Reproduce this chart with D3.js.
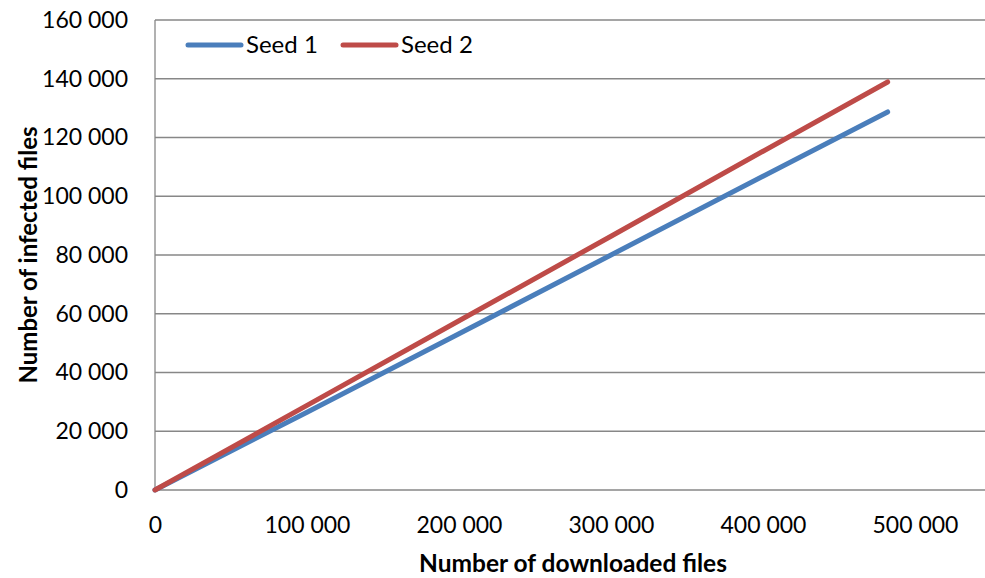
<!DOCTYPE html>
<html>
<head>
<meta charset="utf-8">
<script src="https://cdn.jsdelivr.net/npm/d3@7"></script>
<style>
  body { margin: 0; background: #fff; }
  svg { display: block; font-family: Lato, "Open Sans", sans-serif; }
</style>
</head>
<body>
<svg id="chart"></svg>
<script>
// Values
const downloaded = [0, 100000, 200000, 300000, 400000, 482000];
const seed1 = [0, 26500, 53200, 80000, 106800, 128700];
const seed2 = [0, 28800, 57600, 86400, 115300, 138900];
const seriesNames = ["Seed 1", "Seed 2"];
const xTicks = [0, 100000, 200000, 300000, 400000, 500000];
const yTicks = [0, 20000, 40000, 60000, 80000, 100000, 120000, 140000, 160000];

const width = 985;
const height = 578;
const marginTop = 20;
const marginLeft = 155;
const marginBottom = 88;
// the picture is cropped on the right: the axis runs on to 600 000 past the edge
const xRight = 1067;

const colors = ["#4a7ebb", "#be4b48"];

const x = d3.scaleLinear([0, 600000], [marginLeft, xRight]);
const y = d3.scaleLinear([0, 160000], [height - marginBottom, marginTop]);

const fmt = v => d3.format(",")(v).replace(/,/g, " ");

const svg = d3.select("#chart")
    .attr("width", width)
    .attr("height", height)
    .attr("viewBox", [0, 0, width, height]);

// horizontal grid lines
svg.append("g")
    .selectAll("line")
    .data(yTicks.slice(1))
    .join("line")
    .attr("x1", marginLeft)
    .attr("x2", xRight)
    .attr("y1", d => y(d))
    .attr("y2", d => y(d))
    .attr("stroke", "#878787")
    .attr("stroke-width", 1.3);

// y axis labels
svg.append("g")
    .attr("transform", `translate(${marginLeft},0)`)
    .call(d3.axisLeft(y).tickValues(yTicks).tickFormat(fmt).tickSize(0).tickPadding(27))
    .call(g => g.select(".domain").remove())
    .call(g => g.selectAll("text")
        .attr("font-family", "Lato, 'Open Sans', sans-serif")
        .attr("font-size", 23)
        .attr("fill", "#000"));

// x axis labels
svg.append("g")
    .attr("transform", `translate(0,${height - marginBottom})`)
    .call(d3.axisBottom(x).tickValues(xTicks).tickFormat(fmt).tickSize(0).tickPadding(27))
    .call(g => g.select(".domain").remove())
    .call(g => g.selectAll("text")
        .attr("font-family", "Lato, 'Open Sans', sans-serif")
        .attr("font-size", 23)
        .attr("fill", "#000"));

// axis lines
svg.append("line")
    .attr("x1", marginLeft).attr("x2", marginLeft)
    .attr("y1", y(160000)).attr("y2", y(0))
    .attr("stroke", "#878787")
    .attr("stroke-width", 1.3);
svg.append("line")
    .attr("x1", marginLeft).attr("x2", xRight)
    .attr("y1", y(0)).attr("y2", y(0))
    .attr("stroke", "#878787")
    .attr("stroke-width", 1.3);

// series lines
const line = d3.line()
    .x(d => x(d[0]))
    .y(d => y(d[1]));

[seed1, seed2].forEach((vals, i) => {
    svg.append("path")
        .datum(downloaded.map((v, j) => [v, vals[j]]))
        .attr("fill", "none")
        .attr("stroke", colors[i])
        .attr("stroke-width", 5)
        .attr("stroke-linecap", "round")
        .attr("stroke-linejoin", "round")
        .attr("d", line);
});

// legend
const legend = svg.append("g")
    .selectAll("g")
    .data(seriesNames)
    .join("g")
    .attr("transform", (d, i) => `translate(${188 + i * 155},45)`);

legend.append("line")
    .attr("x1", 0).attr("x2", 53)
    .attr("stroke", (d, i) => colors[i])
    .attr("stroke-width", 5)
    .attr("stroke-linecap", "round");

legend.append("text")
    .attr("x", 58)
    .attr("dy", "0.35em")
    .attr("font-size", 24)
    .attr("fill", "#000")
    .text(d => d);

// axis titles
svg.append("text")
    .attr("x", 573)
    .attr("y", 572)
    .attr("text-anchor", "middle")
    .attr("font-size", 24.5)
    .attr("font-weight", "bold")
    .text("Number of downloaded files");

svg.append("text")
    .attr("transform", `translate(37,${(y(0) + y(160000)) / 2}) rotate(-90)`)
    .attr("text-anchor", "middle")
    .attr("font-size", 24)
    .attr("font-weight", "bold")
    .text("Number of infected files");
</script>
</body>
</html>
